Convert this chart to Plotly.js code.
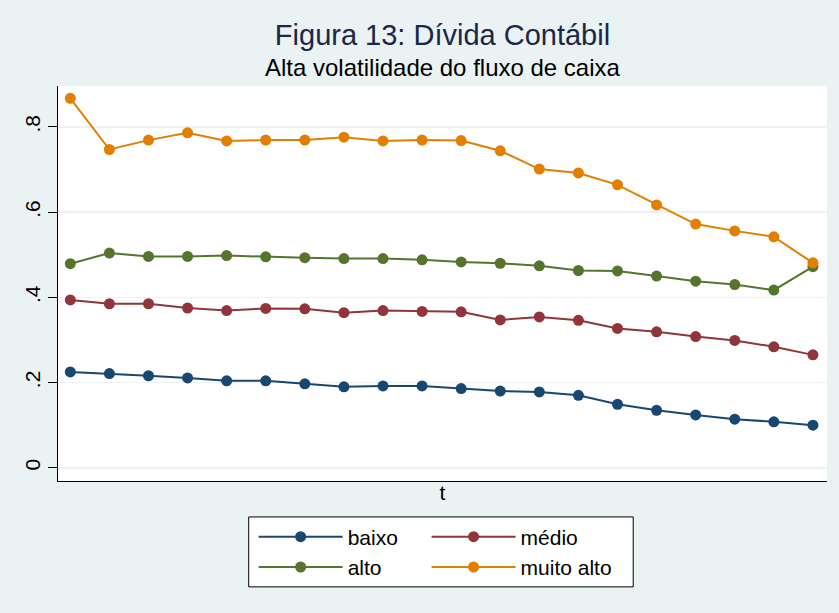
<!DOCTYPE html>
<html>
<head>
<meta charset="utf-8">
<script src="https://cdn.plot.ly/plotly-3.0.1.min.js"></script>
<style>html,body{margin:0;padding:0;background:#eaf2f3;}#chart{width:839px;height:613px;}</style>
</head>
<body>
<div id="chart"></div>
<script>
const t = [1,2,3,4,5,6,7,8,9,10,11,12,13,14,15,16,17,18,19,20];
const baixo = [0.225,0.221,0.216,0.211,0.204,0.204,0.197,0.190,0.192,0.192,0.186,0.180,0.178,0.170,0.149,0.135,0.124,0.114,0.108,0.100];
const medio = [0.394,0.385,0.385,0.375,0.369,0.374,0.373,0.364,0.369,0.367,0.366,0.347,0.354,0.346,0.327,0.319,0.308,0.299,0.284,0.265];
const alto = [0.479,0.504,0.496,0.496,0.498,0.495,0.493,0.491,0.491,0.488,0.483,0.480,0.474,0.463,0.462,0.450,0.438,0.430,0.417,0.472];
const muitoAlto = [0.867,0.747,0.769,0.786,0.767,0.769,0.769,0.776,0.767,0.769,0.768,0.744,0.701,0.692,0.664,0.617,0.572,0.556,0.542,0.481];
const yTickVals = [0,0.2,0.4,0.6,0.8];
const yTickText = ['0','.2','.4','.6','.8'];
const seriesNames = ['baixo','médio','alto','muito alto'];
const seriesColors = ['#1a476f','#90353b','#55752f','#e37e00'];

const seriesData = [baixo, medio, alto, muitoAlto];
const legendIds = ['legend','legend2','legend','legend2'];
const traces = seriesData.map((y,i)=>({
  x: t, y: y, type:'scatter', mode:'lines+markers', name: seriesNames[i],
  line:{color:seriesColors[i], width:2},
  marker:{color:seriesColors[i], size:11, symbol:'circle'},
  legend: legendIds[i]
}));

const FONT = 'Liberation Sans, Arial, sans-serif';
const legendCommon = {
  orientation:'v', bgcolor:'rgba(0,0,0,0)', borderwidth:0,
  font:{family:FONT, size:21, color:'#000'}, itemwidth:84,
  xanchor:'left', yanchor:'top', tracegroupgap:0
};

const layout = {
  width:839, height:613,
  paper_bgcolor:'#eaf2f3', plot_bgcolor:'#ffffff',
  margin:{l:58, r:12, t:86, b:132},
  showlegend:true,
  title:{text:'Figura 13: Dívida Contábil', font:{family:FONT, size:29, color:'#1a2747'},
    x:0.5, xref:'paper', xanchor:'center', y:0.943, yref:'container', yanchor:'middle'},
  annotations:[{text:'Alta volatilidade do fluxo de caixa', xref:'paper', yref:'paper',
    x:0.5, y:1.0456, xanchor:'center', yanchor:'middle', showarrow:false,
    font:{family:FONT, size:24, color:'#000'}}],
  xaxis:{range:[0.685,20.36], showticklabels:false, ticks:'', showgrid:false, zeroline:false,
    showline:true, linecolor:'#000', linewidth:1,
    title:{text:'t', font:{family:FONT, size:21, color:'#000'}, standoff:4}},
  yaxis:{range:[-0.031,0.896], tickvals:yTickVals, ticktext:yTickText, tickangle:-90,
    ticks:'outside', ticklen:9, tickcolor:'#000', tickwidth:1,
    tickfont:{family:FONT, size:21, color:'#000'},
    showgrid:true, gridcolor:'#eaf2f3', gridwidth:1.5, zeroline:false,
    showline:true, linecolor:'#000', linewidth:1},
  legend: Object.assign({}, legendCommon, {x:0.2544, y:-0.09}),
  legend2: Object.assign({}, legendCommon, {x:0.4793, y:-0.09}),
  shapes:[{type:'rect', xref:'paper', yref:'paper', x0:0.248, x1:0.748, y0:-0.268, y1:-0.091,
    line:{color:'#000', width:1}, fillcolor:'#ffffff', layer:'below'}]
};

Plotly.newPlot('chart', traces, layout, {displayModeBar:false, staticPlot:true});
</script>
</body>
</html>
